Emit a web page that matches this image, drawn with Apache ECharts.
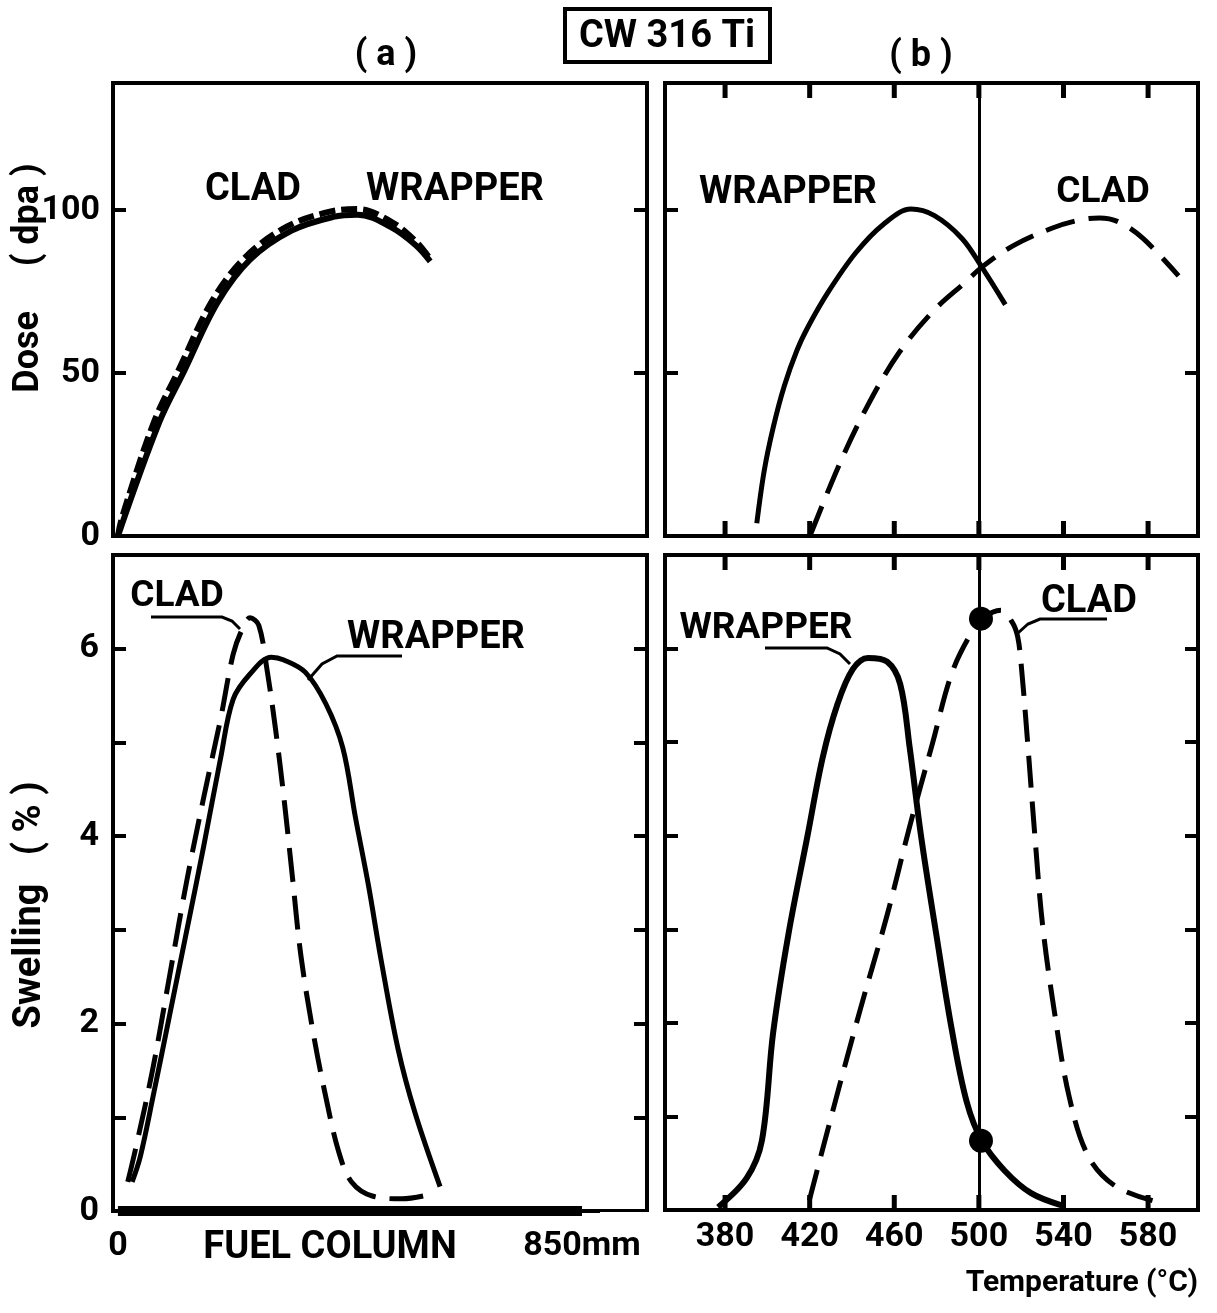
<!DOCTYPE html>
<html>
<head>
<meta charset="utf-8">
<title>CW 316 Ti</title>
<script src="https://cdn.jsdelivr.net/npm/echarts@6/dist/echarts.min.js"></script>
<style>
  html, body { margin: 0; padding: 0; background: #fff; }
  #chart { width: 1217px; height: 1313px; }
</style>
</head>
<body>
<div id="chart"></div>
<script>
// axis values
var doseTicks = [50, 100]
var doseLabels = [0, 50, 100]
var swellTicks = [1, 2, 3, 4, 5, 6]
var swellLabels = [0, 2, 4, 6]
var tempTicks = [380, 420, 460, 500, 540, 580]
var positionLabels = [0, 850]
var fuelColumn = [[0, 0], [850, 0]]
var refTemp = 500

// (a) dose (dpa) along the fuel column (mm)
var cladDosePos = [[0, 0], [8, 6], [66, 35], [110, 50.5], [172, 72], [233, 85.5], [310, 95], [390, 99.6], [440, 100.3], [500, 96.5], [545, 90.5], [572, 85]]
var wrapperDosePos = [[0, 0], [76, 35], [121, 50.5], [182, 71.5], [242, 84.8], [318, 93.7], [394, 97.9], [439, 98.6], [500, 94.8], [545, 89.3], [572, 84.3]]

// (b) dose (dpa) vs temperature (C)
var wrapperDoseTemp = [[395, 3.9], [398.5, 20], [402.8, 33.4], [408, 46], [414, 57], [419.5, 64.5], [428.8, 74.9], [441.8, 86.9], [454.8, 95.6], [467.9, 100.3], [479, 98.3], [492, 91.3], [501.4, 82.5], [512.5, 71]]
var cladDoseTemp = [[420.5, 0.6], [434.4, 22.5], [447.4, 40], [462.3, 56.3], [479, 69.4], [494, 78.1], [501.4, 82.5], [516.3, 89.1], [534.8, 94.5], [548, 97], [557, 97.6], [566, 96.4], [577.6, 91.3], [594.4, 79.8]]

// (a) swelling (%) along the fuel column (mm)
var wrapperSwellPos = [[26, 0.31], [41, 0.58], [64, 1.21], [95, 2.1], [126, 2.99], [157, 3.89], [188, 4.83], [211, 5.46], [242, 5.73], [281, 5.91], [304, 5.88], [343, 5.75], [381, 5.41], [412, 4.94], [435, 4.2], [459, 3.47], [482, 2.68], [513, 1.73], [544, 1.05], [590, 0.26]]
var cladSwellPos = [[18, 0.31], [33, 0.68], [64, 1.52], [95, 2.52], [126, 3.52], [157, 4.41], [188, 5.25], [211, 5.94], [227, 6.2], [242, 6.33], [258, 6.25], [273, 5.78], [288.5, 5.15], [304, 4.41], [319.5, 3.57], [335, 2.73], [358, 1.89], [381, 1.21], [404.5, 0.63], [428, 0.31], [466, 0.16], [520, 0.13], [559, 0.16]]

// (b) swelling (%) vs temperature (C)
var wrapperSwellTemp = [[376.7, 0.03], [390.2, 0.34], [397.4, 0.74], [402.7, 1.89], [409.9, 2.94], [418.9, 3.99], [426.1, 4.83], [433.2, 5.41], [440.4, 5.78], [447.6, 5.9], [456.6, 5.86], [462.8, 5.62], [467.3, 4.94], [472.7, 3.99], [479.9, 2.94], [487.1, 1.94], [494.2, 1.16], [501.4, 0.74], [512.2, 0.42], [524.7, 0.18], [539.1, 0.05]]
var cladSwellTemp = [[419.8, 0.1], [431.4, 1.1], [444, 2.15], [456.6, 3.15], [467.3, 4.1], [478.1, 4.99], [487.1, 5.73], [496, 6.15], [502.3, 6.33], [510.4, 6.41], [515.8, 6.28], [518.4, 6.12], [520.2, 5.78], [522.9, 5.04], [526.5, 3.99], [530.1, 3.05], [535.5, 2.15], [542.7, 1.21], [551.6, 0.58], [564.2, 0.26], [582.1, 0.1]]
var markedPoints = [[501, 6.32], [501, 0.74]]

var FONT = 'Roboto, "DejaVu Sans", sans-serif'
var chart = echarts.init(document.getElementById('chart'), null, { renderer: 'canvas' })

var doseMax = 139, swellMax = 7
var temp0 = 351.6, temp1 = 603.6, pos0 = -9, pos1 = 969

function axis(grid, min, max, extra) {
  return Object.assign({
    type: 'value', gridIndex: grid, min: min, max: max, z: 10,
    axisLine: { show: false, onZero: false }, splitLine: { show: false },
    axisTick: { show: false }, axisLabel: { show: false }
  }, extra || {})
}
function ticks(values) {
  return { show: true, inside: true, length: 13, customValues: values, lineStyle: { color: '#000', width: 4 } }
}
function labels(values, margin, fmt) {
  return {
    show: true, customValues: values, margin: margin, color: '#000',
    fontFamily: FONT, fontWeight: 'bold', fontSize: 34, formatter: fmt
  }
}
function curve(data, xi, yi, width, dash) {
  return {
    type: 'line', xAxisIndex: xi, yAxisIndex: yi, data: data,
    smooth: 0.35, symbol: 'none', showSymbol: false, clip: false,
    lineStyle: { color: '#000', width: width, type: dash || 'solid', cap: 'butt', join: 'round' },
    silent: true
  }
}
// short inward marks at the temperature ticks, on the bottom (atY = 0) or top edge of a panel
function edgeTicks(xi, yi, atY, down) {
  return {
    type: 'scatter', xAxisIndex: xi, yAxisIndex: yi, clip: false, silent: true, z: 20,
    data: tempTicks.map(function (t) { return [t, atY] }),
    symbol: 'rect', symbolSize: [5, 30], symbolOffset: [0, down ? 0 : 0],
    itemStyle: { color: '#000', opacity: 1 }
  }
}
function text(str, x, y, size, extra) {
  return Object.assign({
    type: 'text', x: x, y: y, z: 50,
    style: { text: str, font: 'bold ' + size + 'px ' + FONT, fill: '#000', align: 'center', verticalAlign: 'middle' }
  }, extra || {})
}
function leader(points) {
  return { type: 'polyline', z: 50, shape: { points: points }, style: { stroke: '#000', lineWidth: 3, fill: null } }
}
var refLine = {
  silent: true, symbol: 'none', label: { show: false },
  lineStyle: { color: '#000', width: 3, type: 'solid' },
  data: [{ xAxis: refTemp }]
}

var border = { show: true, borderColor: '#000', borderWidth: 4, backgroundColor: 'transparent', z: 0 }

// white strips just outside the (b) panels hide the outer half of the edge marks
function mask(x, y, w, h) {
  return { type: 'rect', z: 30, shape: { x: x, y: y, width: w, height: h }, style: { fill: '#fff' } }
}

chart.setOption({
  animation: false,
  backgroundColor: '#fff',
  grid: [
    Object.assign({ left: 113, top: 83, width: 534, height: 453 }, border),
    Object.assign({ left: 665, top: 83, width: 533, height: 453 }, border),
    Object.assign({ left: 113, top: 555, width: 534, height: 656 }, border),
    Object.assign({ left: 665, top: 555, width: 533, height: 655 }, border)
  ],
  xAxis: [
    axis(0, pos0, pos1),
    axis(1, temp0, temp1, { position: 'bottom' }),
    axis(2, pos0, pos1, { position: 'bottom', axisLabel: labels(positionLabels, 18, function (v) { return v === 850 ? '850mm' : String(v) }) }),
    axis(3, temp0, temp1, { position: 'bottom', axisLabel: labels(tempTicks, 10) })
  ],
  yAxis: [
    axis(0, 0, doseMax, { position: 'left', axisTick: ticks(doseTicks), axisLabel: labels(doseLabels, 13) }),
    axis(0, 0, doseMax, { position: 'right', axisTick: ticks(doseTicks) }),
    axis(1, 0, doseMax, { position: 'left', axisTick: ticks(doseTicks) }),
    axis(1, 0, doseMax, { position: 'right', axisTick: ticks(doseTicks) }),
    axis(2, 0, swellMax, { position: 'left', axisTick: ticks(swellTicks), axisLabel: labels(swellLabels, 14) }),
    axis(2, 0, swellMax, { position: 'right', axisTick: ticks(swellTicks) }),
    axis(3, 0, swellMax, { position: 'left', axisTick: ticks(swellTicks) }),
    axis(3, 0, swellMax, { position: 'right', axisTick: ticks(swellTicks) })
  ],
  series: [
    curve(wrapperDosePos, 0, 0, 6),
    curve(cladDosePos, 0, 0, 6, [16, 6]),
    Object.assign(curve(wrapperDoseTemp, 1, 2, 5), { markLine: refLine }),
    curve(cladDoseTemp, 1, 2, 5, [30, 14]),
    edgeTicks(1, 2, 0, false),
    edgeTicks(1, 2, doseMax, true),
    curve(wrapperSwellPos, 2, 4, 5),
    curve(cladSwellPos, 2, 4, 5, [34, 14]),
    Object.assign(curve(fuelColumn, 2, 4, 10), { smooth: false }),
    Object.assign(curve(wrapperSwellTemp, 3, 6, 6), { markLine: refLine }),
    curve(cladSwellTemp, 3, 6, 5, [32, 14]),
    edgeTicks(3, 6, 0, false),
    edgeTicks(3, 6, swellMax, true),
    {
      type: 'scatter', xAxisIndex: 3, yAxisIndex: 6, data: markedPoints,
      symbol: 'circle', symbolSize: 24, itemStyle: { color: '#000', opacity: 1 }, silent: true, z: 5
    }
  ],
  graphic: [
    mask(600, 64, 617, 17),
    mask(600, 538, 617, 15),
    mask(600, 1212, 617, 10),
    { type: 'rect', z: 40, shape: { x: 565, y: 9, width: 205, height: 53 }, style: { stroke: '#000', lineWidth: 4, fill: '#fff' } },
    text('CW 316 Ti', 667, 37, 38),
    text('( a )', 386, 56, 36),
    text('( b )', 921, 57, 36),
    text('CLAD', 253, 190, 38),
    text('WRAPPER', 455, 190, 38),
    text('WRAPPER', 788, 193, 38),
    text('CLAD', 1103, 193, 37),
    text('CLAD', 177, 597, 37),
    text('WRAPPER', 436, 638, 38),
    text('WRAPPER', 766, 629, 37),
    text('CLAD', 1089, 602, 38),
    leader([[151, 617], [222, 617], [232, 621], [240, 629]]),
    leader([[402, 656], [337, 656], [322, 664], [308, 680]]),
    leader([[765, 648], [827, 648], [840, 654], [850, 664]]),
    leader([[1107, 619], [1040, 619], [1028, 624], [1018, 633]]),
    text('Dose     ( dpa )', 29, 278, 36, { rotation: Math.PI / 2 }),
    text('Swelling   ( % )', 30, 905, 38, { rotation: Math.PI / 2 }),
    text('FUEL COLUMN', 330, 1248, 38),
    text('Temperature (°C)', 1198, 1283, 30, {
      style: { text: 'Temperature (°C)', font: 'bold 30px ' + FONT, fill: '#000', align: 'right', verticalAlign: 'middle' }
    })
  ]
})
</script>
</body>
</html>
